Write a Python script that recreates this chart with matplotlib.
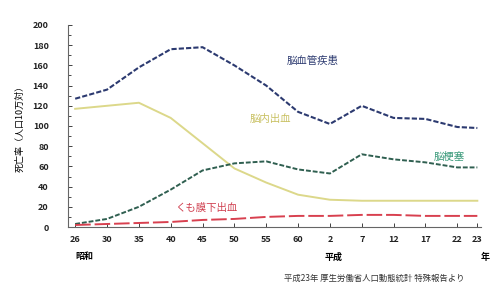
import matplotlib
matplotlib.use("Agg")
import matplotlib.pyplot as plt
import numpy as np

plt.rcParams['font.family'] = ['Noto Sans CJK JP', 'DejaVu Sans']

# Data (死亡率, 人口10万対)
year_labels = ['26', '30', '35', '40', '45', '50', '55', '60', '2', '7', '12', '17', '22', '23']
cerebrovascular = [127, 136, 158, 176, 178, 160, 140, 114, 102, 120, 108, 107, 99, 98]
hemorrhage = [117, 120, 123, 108, 83, 58, 44, 32, 27, 26, 26, 26, 26, 26]
infarction = [3, 8, 20, 37, 56, 63, 65, 57, 53, 72, 67, 64, 59, 59]
subarachnoid = [2, 3, 4, 5, 7, 8, 10, 11, 11, 12, 12, 11, 11, 11]
yticks = [0, 20, 40, 60, 80, 100, 120, 140, 160, 180, 200]

x = list(range(len(year_labels) - 1)) + [len(year_labels) - 2 + 0.63]

fig = plt.figure(figsize=(4.94, 2.87), dpi=100)
ax = fig.add_axes([0.138, 0.209, 0.836, 0.704])

ax.plot(x, cerebrovascular, color='#2c3a70', lw=1.5, ls=(0, (2.5, 1)))
ax.plot(x, hemorrhage, color='#dcd88a', lw=1.4)
ax.plot(x, infarction, color='#2f5f50', lw=1.4, ls=(0, (2.5, 1)))
ax.plot(x, subarachnoid, color='#d8404f', lw=1.4, ls=(0, (8, 2)))

ax.set_xlim(-0.22, 12.75)
ax.set_ylim(0, 200)
ax.set_yticks(yticks)
ax.set_yticklabels([str(v) for v in yticks], fontsize=6.5, fontweight='bold')
ax.set_xticks(x)
ax.set_xticklabels(year_labels, fontsize=6.5, fontweight='bold')
ax.yaxis.set_minor_locator(matplotlib.ticker.MultipleLocator(10))
ax.tick_params(axis='y', direction='in', length=3, width=0.6, pad=14, colors='#222222')
ax.tick_params(axis='y', which='minor', direction='in', length=2, width=0.5)
ax.tick_params(axis='x', direction='in', length=3, width=0.6, pad=6, colors='#222222')
for s in ['top', 'right']:
    ax.spines[s].set_visible(False)
for s in ['left', 'bottom']:
    ax.spines[s].set_color('#666666')
    ax.spines[s].set_linewidth(0.8)

ax.set_ylabel('死亡率（人口10万対）', fontsize=6.5, labelpad=6)

ax.text(0.53, 0.82, '脳血管疾患', transform=ax.transAxes, color='#2c3a70', fontsize=7.5, ha='left', va='center')
ax.text(0.44, 0.535, '脳内出血', transform=ax.transAxes, color='#c8c060', fontsize=7.5, ha='left', va='center')
ax.text(0.885, 0.345, '脳梗塞', transform=ax.transAxes, color='#3a9a7a', fontsize=7.5, ha='left', va='center')
ax.text(0.26, 0.095, 'くも膜下出血', transform=ax.transAxes, color='#d04050', fontsize=7.5, ha='left', va='center')

fig.text(75 / 494, 1 - 257 / 287, '昭和', fontsize=6.5, fontweight='bold', ha='left', va='center')
fig.text(325 / 494, 1 - 257 / 287, '平成', fontsize=6.5, fontweight='bold', ha='left', va='center')
fig.text(490 / 494, 1 - 257 / 287, '年', fontsize=6.5, fontweight='bold', ha='right', va='center')
fig.text(465 / 494, 1 - 278 / 287, '平成23年 厚生労働省人口動態統計 特殊報告より', fontsize=6, ha='right', va='center', color='#333333')

fig.savefig('out.png', dpi=100)
